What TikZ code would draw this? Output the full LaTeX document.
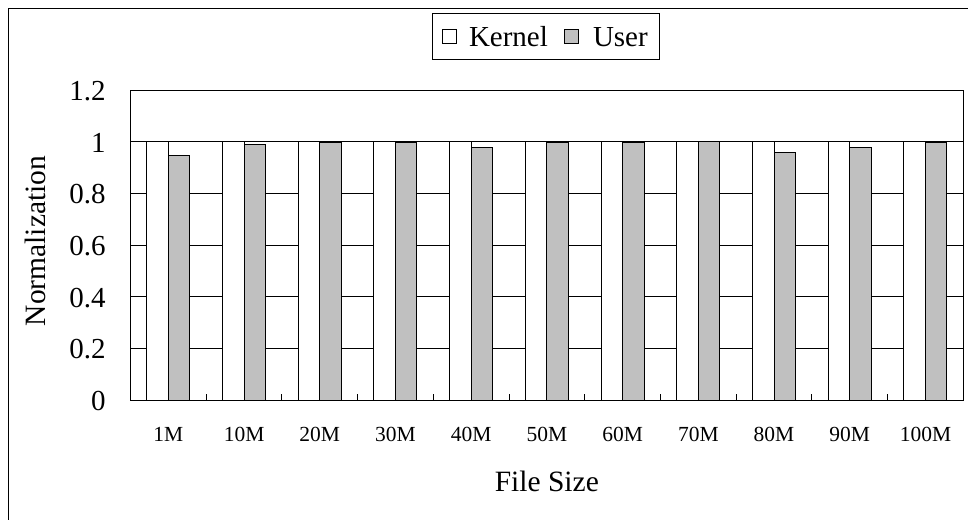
\documentclass[tikz,border=0pt]{standalone}
\usepackage{fontspec}
\setmainfont{Liberation Serif}
\begin{document}
\begin{tikzpicture}[x=1pt,y=-1pt,
  line width=1pt,
  kbar/.style={draw=black,fill=white},
  ubar/.style={draw=black,fill=barGray},
  ylab/.style={anchor=east,font=\fontsize{29}{29}\selectfont,inner sep=0pt},
  xlab/.style={anchor=center,font=\fontsize{21.5}{21.5}\selectfont,inner sep=0pt},
  title/.style={font=\fontsize{29.5}{29.5}\selectfont,inner sep=0pt}]
\definecolor{barGray}{RGB}{192,192,192}
\useasboundingbox (0,0) rectangle (968,519);
% outer chart frame (runs past the page edges on the right and bottom)
\draw (8,9) -- (975,9);
\draw (8,9) -- (8,530);
% plot area
\def\xl{130.5}
\def\xr{963.3}
\def\yz{400}
\def\yu{258.33}
\def\cw{75.709}
\def\bw{21.5}
\fill[white] (\xl,90) rectangle (\xr,\yz);
% horizontal grid lines
\foreach \v in {0.2,0.4,0.6,0.8,1.0}
  \draw (\xl,{\yz-\v*\yu}) -- (\xr,{\yz-\v*\yu});
% bars
\foreach \u [count=\i from 0] in {0.946,0.989,0.996,0.996,0.978,0.996,0.996,0.999,0.957,0.978,0.996}{
  \pgfmathsetmacro{\cx}{\xl+(\i+0.5)*\cw}
  \draw[kbar] ({\cx-\bw},\yz) rectangle (\cx,{\yz-\yu});
  \draw[ubar] (\cx,\yz) rectangle ({\cx+\bw},{\yz-\u*\yu});
}
% plot frame
\draw (\xl,90) rectangle (\xr,\yz);
% category ticks
\foreach \i in {1,...,10}
  \draw ({\xl+\i*\cw},\yz) -- ({\xl+\i*\cw},{\yz-6.5});
% y tick labels
\foreach \v/\t in {0/0,0.2/0.2,0.4/0.4,0.6/0.6,0.8/0.8,1/1,1.2/1.2}
  \node[ylab] (yl\t) at (106,{\yz-\v*\yu+1}) {\t};
% x tick labels
\foreach \t [count=\i from 0] in {1M,10M,20M,30M,40M,50M,60M,70M,80M,90M,100M}
  \node[xlab] (xl\i) at ({\xl+(\i+0.5)*\cw},434) {\t};
% axis titles
\node[title,rotate=90] (ytitle) at (35,241) {Normalization};
\node[title] (xtitle) at (546.8,481) {File Size};
% legend
\draw (432.7,13.3) rectangle (659.3,59.3);
\draw[kbar] (442.3,29.5) rectangle (456.5,44);
\node[title,anchor=base west,font=\fontsize{29}{29}\selectfont] (lgk) at (468.5,46.7) {Kernel};
\draw[ubar] (564.5,29.5) rectangle (578.8,44);
\node[title,anchor=base west,font=\fontsize{29}{29}\selectfont] (lgu) at (592.5,46.7) {User};
\end{tikzpicture}
\end{document}
